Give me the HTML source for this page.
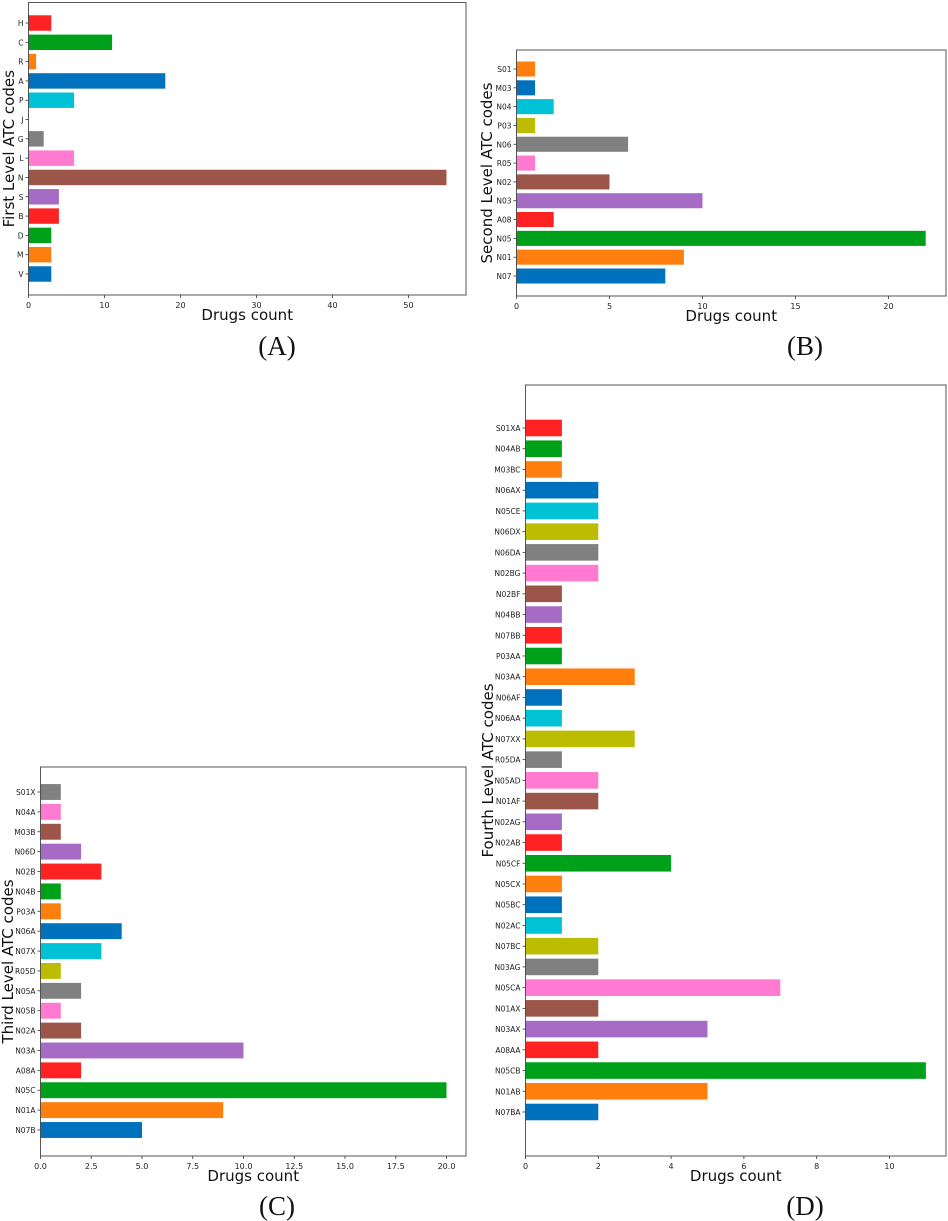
<!DOCTYPE html>
<html><head><meta charset="utf-8"><style>
body{margin:0;background:#fff}
svg{display:block}
</style></head><body>
<svg id="s" width="948" height="1221" xmlns="http://www.w3.org/2000/svg"></svg>
<script>
const catsA=["V","M","D","B","S","N","L","G","J","P","A","R","C","H"];
const valsA=[3,3,3,4,4,55,6,2,0,6,18,1,11,3];
const ticksA=[0,10,20,30,40,50];
const catsB=["N07","N01","N05","A08","N03","N02","R05","N06","P03","N04","M03","S01"];
const valsB=[8,9,22,2,10,5,1,6,1,2,1,1];
const ticksB=[0,5,10,15,20];
const catsC=["N07B","N01A","N05C","A08A","N03A","N02A","N05B","N05A","R05D","N07X","N06A","P03A","N04B","N02B","N06D","M03B","N04A","S01X"];
const valsC=[5,9,20,2,10,2,1,2,1,3,4,1,1,3,2,1,1,1];
const ticksC=[0,2.5,5,7.5,10,12.5,15,17.5,20];
const tickLabelsC=["0.0","2.5","5.0","7.5","10.0","12.5","15.0","17.5","20.0"];
const catsD=["N07BA","N01AB","N05CB","A08AA","N03AX","N01AX","N05CA","N03AG","N07BC","N02AC","N05BC","N05CX","N05CF","N02AB","N02AG","N01AF","N05AD","R05DA","N07XX","N06AA","N06AF","N03AA","P03AA","N07BB","N04BB","N02BF","N02BG","N06DA","N06DX","N05CE","N06AX","M03BC","N04AB","S01XA"];
const valsD=[2,5,11,2,5,2,7,2,2,1,1,1,4,1,1,2,2,1,3,1,1,3,1,1,1,1,2,2,2,2,2,1,1,1];
const ticksD=[0,2,4,6,8,10];
const pal=["#0072bd","#ff7f0e","#00a11a","#ff2222","#a66bc5","#9c5549","#ff7ad0","#808080","#bcbd00","#00c2d6"];
const S=document.getElementById('s');
const NS="http://www.w3.org/2000/svg";
function mk(t,a,p){const e=document.createElementNS(NS,t);for(const k in a)e.setAttribute(k,a[k]);(p||S).appendChild(e);return e;}
function panel(id,box,cats,vals,ticks,tlabels,xmax,yFirst,yLast,ylab,yx,letter,lx,ly){
  const g=mk('g',{});
  
  
  const [x0,y0,x1,y1]=box;
  const xs=v=>x0+v/xmax*(x1-x0);
  const n=cats.length;const step=(yFirst-yLast)/(n-1);
  const ys=i=>yFirst-i*step;
  cats.forEach((c,i)=>{
    const r=mk('rect',{x:xs(0),y:ys(i)-step*0.4,width:Math.max(0,xs(vals[i])-xs(0)),height:step*0.8,fill:pal[i%10]},g);
    
    
    mk('line',{x1:x0-3,x2:x0,y1:ys(i),y2:ys(i),stroke:'#333','stroke-width':0.8},g);
    const t=mk('text',{x:x0-5,y:ys(i)+3,'text-anchor':'end','font-size':7.5,'font-family':'DejaVu Sans, Liberation Sans, sans-serif',fill:'#222'},g);
    t.textContent=c;
    
    
  });
  ticks.forEach((v,i)=>{
    mk('line',{x1:xs(v),x2:xs(v),y1:y1,y2:y1+3,stroke:'#333','stroke-width':0.8},g);
    const t=mk('text',{x:xs(v),y:y1+13,'text-anchor':'middle','font-size':8,'font-family':'DejaVu Sans, Liberation Sans, sans-serif',fill:'#222'},g);
    t.textContent=tlabels?tlabels[i]:String(v);
    
    
  });
  const fr=mk('rect',{x:x0,y:y0,width:x1-x0,height:y1-y0,fill:'none',stroke:'#444','stroke-width':0.9},g);
  
  
  const xl=mk('text',{x:(x0+x1)/2,y:y1+25,'text-anchor':'middle','font-size':15,'font-family':'DejaVu Sans, Liberation Sans, sans-serif',fill:'#111'},g);
  xl.textContent='Drugs count';
  
  
  const cy=(y0+y1)/2;
  const yl=mk('text',{x:yx,y:cy,'text-anchor':'middle','font-size':15,'font-family':'DejaVu Sans, Liberation Sans, sans-serif',fill:'#111',transform:`rotate(-90 ${yx} ${cy})`},g);
  yl.textContent=ylab;
  
  
  const pl=mk('text',{x:lx,y:ly,'text-anchor':'middle','font-size':27,'font-family':'Liberation Serif, serif',fill:'#111'},g);
  pl.textContent='('+letter+')';
  
  
}
panel('A',[28.5,2.5,466,295],catsA,valsA,ticksA,null,(466-28.5)/7.6,274,23,'First Level ATC codes',14,'A',277,355);
panel('B',[516.5,50,946,296],catsB,valsB,ticksB,null,(946-516.5)/18.6,276,69,'Second Level ATC codes',492,'B',805,355);
panel('C',[40.5,767,466,1156],catsC,valsC,ticksC,tickLabelsC,(466-40.5)/20.3,1130,792,'Third Level ATC codes',13,'C',277,1215);
panel('D',[525.5,385,946,1156],catsD,valsD,ticksD,null,(946-525.5)/36.4,1112,428,'Fourth Level ATC codes',493,'D',805,1215);
</script>
</body></html>
